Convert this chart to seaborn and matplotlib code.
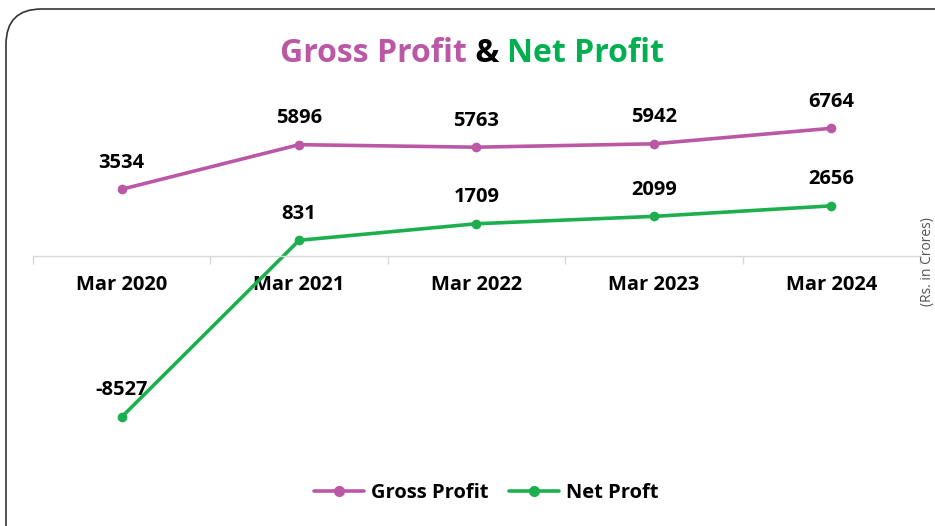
import pandas as pd
import seaborn as sns
import matplotlib
matplotlib.use("Agg")
from matplotlib import pyplot as plt
from matplotlib.patches import FancyBboxPatch
from matplotlib.lines import Line2D

# data (Rs. in Crores)
years = ['Mar 2020', 'Mar 2021', 'Mar 2022', 'Mar 2023', 'Mar 2024']
gross_profit = [3534, 5896, 5763, 5942, 6764]
net_profit = [-8527, 831, 1709, 2099, 2656]
series_names = ['Gross Profit', 'Net Proft']

pink = '#BA58A6'
green = '#1DAF4E'
title_green = '#00B050'

sns.set_theme(style='white')
plt.rcParams['font.family'] = ['Open Sans', 'DejaVu Sans']
plt.rcParams['font.weight'] = 'bold'
plt.rcParams['text.color'] = 'black'

df = pd.DataFrame({
    'pos': list(range(len(years))) * 2,
    'value': gross_profit + net_profit,
    'series': [series_names[0]] * len(years) + [series_names[1]] * len(years),
})

W, H = 935, 526
fig = plt.figure(figsize=(W / 100, H / 100), dpi=100)

# rounded border, running off the bottom and right edges
border = FancyBboxPatch((6 / W, -60 / H), 980 / W, (H + 60 - 9) / H,
                        boxstyle='round,pad=0,rounding_size=0.038',
                        transform=fig.transFigure, fill=False,
                        edgecolor='#333333', linewidth=1.2, mutation_aspect=W / H)
fig.patches.append(border)

# axes placed so 0 sits at y=256 px
left, right = 33, 920
top, bottom = 100, 460
ax = fig.add_axes([left / W, 1 - bottom / H, (right - left) / W, (bottom - top) / H])
px_per_unit = (417 - 256) / 8527.0
ax.set_ylim(-(bottom - 256) / px_per_unit, (256 - top) / px_per_unit)
ax.set_xlim(-0.5, len(years) - 0.5)

sns.lineplot(data=df, x='pos', y='value', hue='series', palette=[pink, green],
             marker='o', markersize=7, markeredgewidth=0, linewidth=2.6,
             legend=False, ax=ax)

for vals in (gross_profit, net_profit):
    for i, v in enumerate(vals):
        ax.annotate(str(v), (i, v), xytext=(0, 12), textcoords='offset points',
                    ha='center', va='bottom', fontsize=14.5, fontweight='bold',
                    color='black')

for s in ['top', 'left', 'right']:
    ax.spines[s].set_visible(False)
ax.spines['bottom'].set_position(('data', 0))
ax.spines['bottom'].set_color('#D9D9D9')
ax.spines['bottom'].set_linewidth(1)
ax.set_yticks([])
ax.set_xticks(range(len(years)))
ax.set_xticklabels(years, fontsize=14.5, fontweight='bold', color='black')
ax.set_xticks([i - 0.5 for i in range(len(years) + 1)], minor=True)
ax.tick_params(axis='x', which='major', length=0, pad=14)
ax.tick_params(axis='x', which='minor', length=6, color='#D9D9D9', direction='out', bottom=True)
ax.set_xlabel('')
ax.set_ylabel('')
ax.patch.set_alpha(0)

# multi coloured title
parts = [('Gross Profit', pink), (' & ', 'black'), ('Net Profit', title_green)]
fig.canvas.draw()
renderer = fig.canvas.get_renderer()
texts = []
widths = []
for txt, col in parts:
    t = fig.text(0, 1 - 54 / H, txt, color=col, fontsize=23, fontweight='bold',
                 va='center', ha='left')
    widths.append(t.get_window_extent(renderer).width)
    texts.append(t)
x0 = 472 - sum(widths) / 2
for t, w in zip(texts, widths):
    t.set_x(x0 / W)
    x0 += w

# unit note at the right edge
fig.text(927 / W, 1 - 262 / H, '(Rs. in Crores)', rotation=90, fontsize=10,
         fontweight='normal', color='#555555', ha='center', va='center')

handles = [Line2D([], [], color=pink, marker='o', markersize=7, linewidth=2.6),
           Line2D([], [], color=green, marker='o', markersize=7, linewidth=2.6)]
fig.legend(handles, series_names, loc='center', bbox_to_anchor=(486 / W, 1 - 493 / H),
           ncol=2, frameon=False, handlelength=2.5,
           columnspacing=1.0, handletextpad=0.35, labelcolor='black',
           prop={'weight': 'bold', 'size': 14.5})

fig.savefig('out.png', dpi=100)
